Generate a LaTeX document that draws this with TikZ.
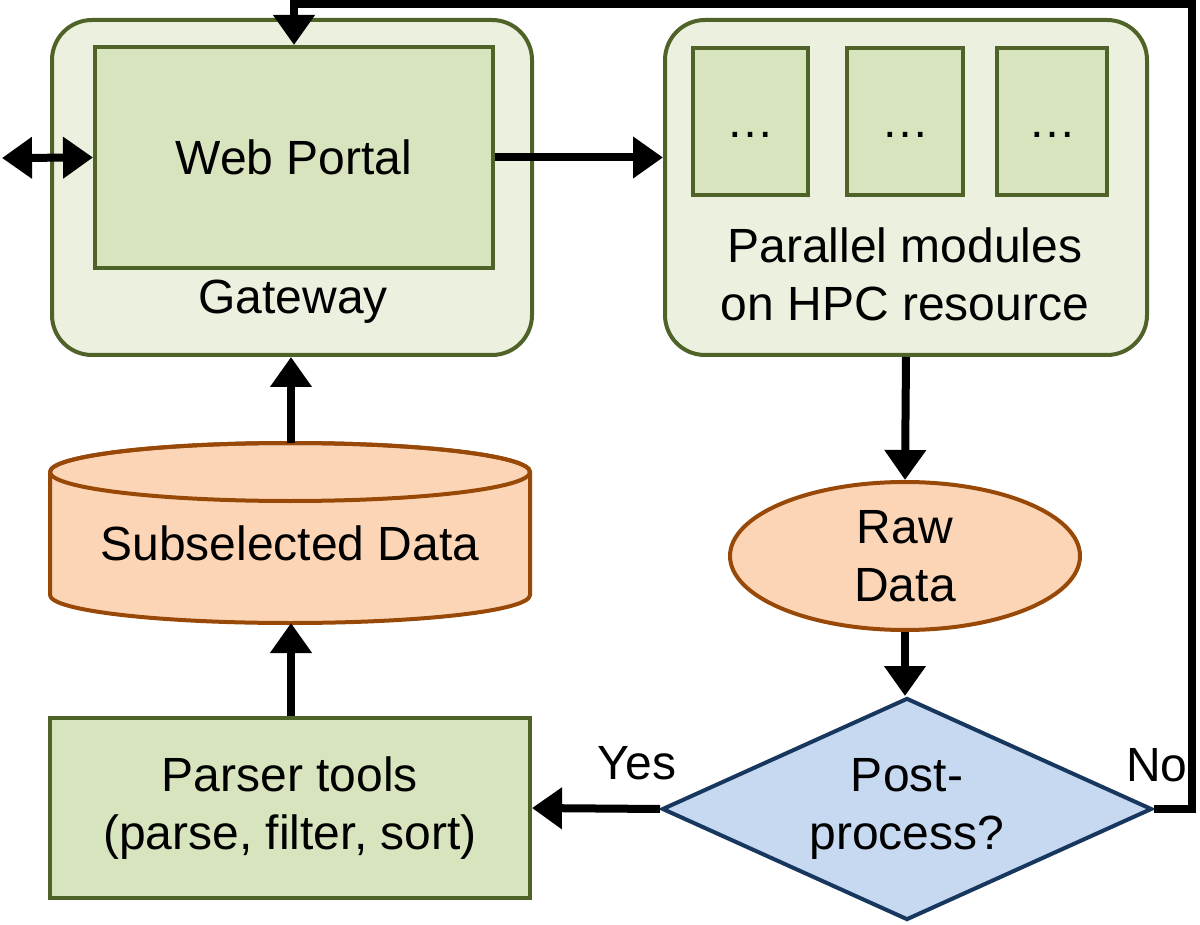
\documentclass[tikz,border=0pt]{standalone}
\usepackage{fontspec}
\setmainfont{Liberation Sans}
\usetikzlibrary{shapes.geometric,arrows.meta}
\definecolor{gbord}{HTML}{4F6228}
\definecolor{gfillA}{HTML}{EBF1DE}
\definecolor{gfillB}{HTML}{D7E4BD}
\definecolor{ofill}{HTML}{FBD5B5}
\definecolor{obord}{HTML}{984807}
\definecolor{bfill}{HTML}{C6D9F1}
\definecolor{bbord}{HTML}{17375E}
\begin{document}
\begin{tikzpicture}[x=0.5pt,y=-0.5pt,
  every node/.style={font=\fontsize{24}{29}\selectfont, align=center, inner sep=0pt},
  outerbox/.style={draw=gbord, line width=2pt, fill=gfillA, rounded corners=20pt},
  innerbox/.style={draw=gbord, line width=2pt, fill=gfillB},
  conn/.style={line width=4pt, -{Triangle[width=20pt,length=15pt]}},
  dconn/.style={line width=4pt, {Triangle[width=20pt,length=15pt]}-{Triangle[width=20pt,length=15pt]}}
]
\useasboundingbox (0,0) rectangle (1200,925);

% Gateway
\node[outerbox, minimum width=240pt, minimum height=167.5pt] (gw) at (292,187.5) {};
\node[innerbox, minimum width=199pt, minimum height=110.5pt] (wp) at (294,157.5) {Web Portal};
\node (gwl) at (293,302) {Gateway};

% HPC
\node[outerbox, minimum width=241pt, minimum height=167.5pt] (hpc) at (906,187.5) {};
\node[innerbox, minimum width=57.5pt, minimum height=73.5pt] (m1) at (750.5,121.5) {\raisebox{-8pt}[0pt][0pt]{…}};
\node[innerbox, minimum width=58pt, minimum height=73.5pt] (m2) at (905,121.5) {\raisebox{-8pt}[0pt][0pt]{…}};
\node[innerbox, minimum width=55pt, minimum height=73.5pt] (m3) at (1052,121.5) {\raisebox{-8pt}[0pt][0pt]{…}};
\node (hpcl) at (905,274) {Parallel modules\\on HPC resource};

% Raw data
\node[ellipse, draw=obord, line width=2pt, fill=ofill, minimum width=175pt, minimum height=74pt] (raw) at (905,556) {Raw\\Data};

% Decision
\node[diamond, draw=bbord, line width=2pt, fill=bfill, minimum width=245pt, minimum height=111pt, aspect=2.2] (dia) at (907,809) {Post-\\process?};

% Parser
\node[innerbox, minimum width=240pt, minimum height=90pt] (par) at (290,808) {Parser tools\\(parse, filter, sort)};

% Cylinder
\filldraw[draw=obord, line width=2pt, fill=ofill]
  (50,472) -- (50,595) arc[start angle=180,end angle=0,x radius=240,y radius=28]
  -- (530,472) arc[start angle=0,end angle=-180,x radius=240,y radius=29] -- cycle;
\draw[obord, line width=2pt] (290,472) ellipse[x radius=240,y radius=29];
\node (cyl) at (290,543) {Subselected Data};
\coordinate (cyltop) at (291,443);
\coordinate (cylbot) at (291,623);

% Connectors
\coordinate (ext) at (2,158);
\coordinate (nr) at (1192,4);
\draw[dconn] (ext) -- (wp.west);
\draw[conn] (wp.east) -- (wp.east -| hpc.west);
\draw[conn] (hpc.south) -- (raw.north);
\draw[conn] (raw.south) -- (raw.south |- dia.north);
\draw[conn] (dia.west) -- (par.east);
\draw[conn] (par.north -| cylbot) -- (cylbot);
\draw[conn] (cyltop) -- (cyltop |- gw.south);
\draw[conn] (dia.east) -| (nr) -| (wp.north);

% Labels
\node (yes) at (637,763) {Yes};
\node (no) at (1157,765) {No};
\end{tikzpicture}
\end{document}
